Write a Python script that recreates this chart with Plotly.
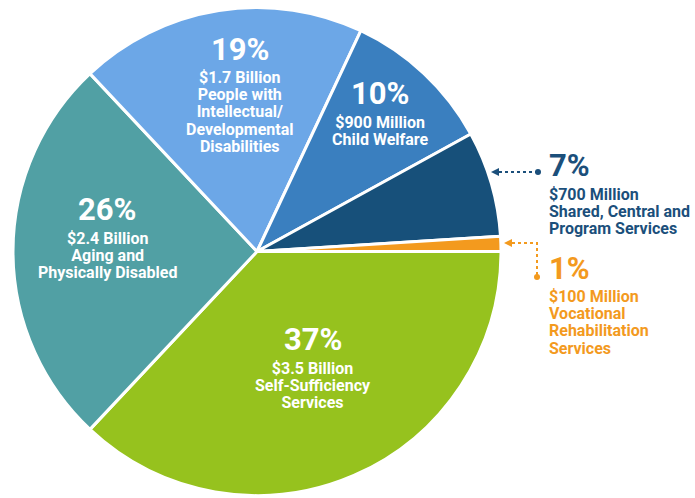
import plotly.graph_objects as go

# ---- data ----
categories = ["Self-Sufficiency Services", "Aging and Physically Disabled",
              "People with Intellectual/Developmental Disabilities", "Child Welfare",
              "Shared, Central and Program Services", "Vocational Rehabilitation Services"]
percents = [37, 26, 19, 10, 7, 1]
amounts = ["$3.5 Billion", "$2.4 Billion", "$1.7 Billion", "$900 Million",
           "$700 Million", "$100 Million"]
label_lines = [["Self-Sufficiency", "Services"],
               ["Aging and", "Physically Disabled"],
               ["People with", "Intellectual/", "Developmental", "Disabilities"],
               ["Child Welfare"],
               ["Shared, Central and", "Program Services"],
               ["Vocational", "Rehabilitation", "Services"]]
colors = ["#96C21E", "#51A0A4", "#6CA7E7", "#3A7FBF", "#17507A", "#F39A1E"]

W, H = 695, 498
FONT = "Roboto, Liberation Sans, Arial, sans-serif"
LINE = 17.2  # px between sub-label lines

def px(x):
    return x / W

def py(y):
    return 1 - y / H

fig = go.Figure(go.Pie(
    labels=categories, values=percents, sort=False, direction="clockwise",
    rotation=90, textinfo="none", hoverinfo="label+percent",
    marker=dict(colors=colors, line=dict(color="white", width=3)),
    domain=dict(x=[px(13), px(501)], y=[py(496), py(7)]),
    showlegend=False,
))

# label layout: (x, y of percentage, anchor, color)
label_pos = [(313, 343, "center", "white"),
             (108, 213, "center", "white"),
             (240, 53, "center", "white"),
             (380, 97, "center", "white"),
             (549, 169, "left", "#1B4F7B"),
             (549, 272, "left", "#F39A1E")]

annotations = []
for pct, amt, lines, (x, y, anc, col) in zip(percents, amounts, label_lines, label_pos):
    xs = -2 if anc == "left" else 0
    annotations.append(dict(x=px(x), y=py(y - 3.5), xref="paper", yref="paper",
                            text=f"<b>{pct}%</b>", showarrow=False, xanchor=anc,
                            yanchor="middle", xshift=xs, align=anc,
                            font=dict(family=FONT, size=31, color=col)))
    sub = [amt] + lines
    body = "<br>".join(f"<span style='font-size:16px'><b>{t}</b></span>" for t in sub)
    ymid = y + 25 + LINE * (len(sub) - 1) / 2
    annotations.append(dict(x=px(x), y=py(ymid), xref="paper", yref="paper",
                            text=body, showarrow=False, xanchor=anc, align=anc,
                            yanchor="middle", xshift=xs,
                            font=dict(family=FONT, size=LINE / 1.3, color=col)))

shapes = []
# 7% pointer
c7 = "#1B4F7B"
shapes.append(dict(type="line", xref="paper", yref="paper", x0=px(499), x1=px(536),
                   y0=py(172), y1=py(172), line=dict(color=c7, width=2, dash="dot")))
shapes.append(dict(type="path", xref="paper", yref="paper",
                   path=f"M {px(491)} {py(172)} L {px(499)} {py(168)} L {px(499)} {py(176)} Z",
                   fillcolor=c7, line=dict(width=0)))
shapes.append(dict(type="circle", xref="paper", yref="paper", x0=px(535), x1=px(541),
                   y0=py(169), y1=py(175), fillcolor=c7, line=dict(width=0)))
# 1% pointer
c1 = "#F39A1E"
shapes.append(dict(type="path", xref="paper", yref="paper",
                   path=f"M {px(512)} {py(243)} L {px(537)} {py(243)} L {px(537)} {py(276)}",
                   line=dict(color=c1, width=2, dash="dot")))
shapes.append(dict(type="path", xref="paper", yref="paper",
                   path=f"M {px(504)} {py(243)} L {px(512)} {py(239)} L {px(512)} {py(247)} Z",
                   fillcolor=c1, line=dict(width=0)))
shapes.append(dict(type="circle", xref="paper", yref="paper", x0=px(534), x1=px(540),
                   y0=py(274), y1=py(280), fillcolor=c1, line=dict(width=0)))

fig.update_layout(width=W, height=H, margin=dict(l=0, r=0, t=0, b=0),
                  paper_bgcolor="white", plot_bgcolor="white",
                  annotations=annotations, shapes=shapes)

fig.write_html("out.html", config={"displayModeBar": False},
               post_script="document.body.style.margin='0';document.body.style.overflow='hidden';")
